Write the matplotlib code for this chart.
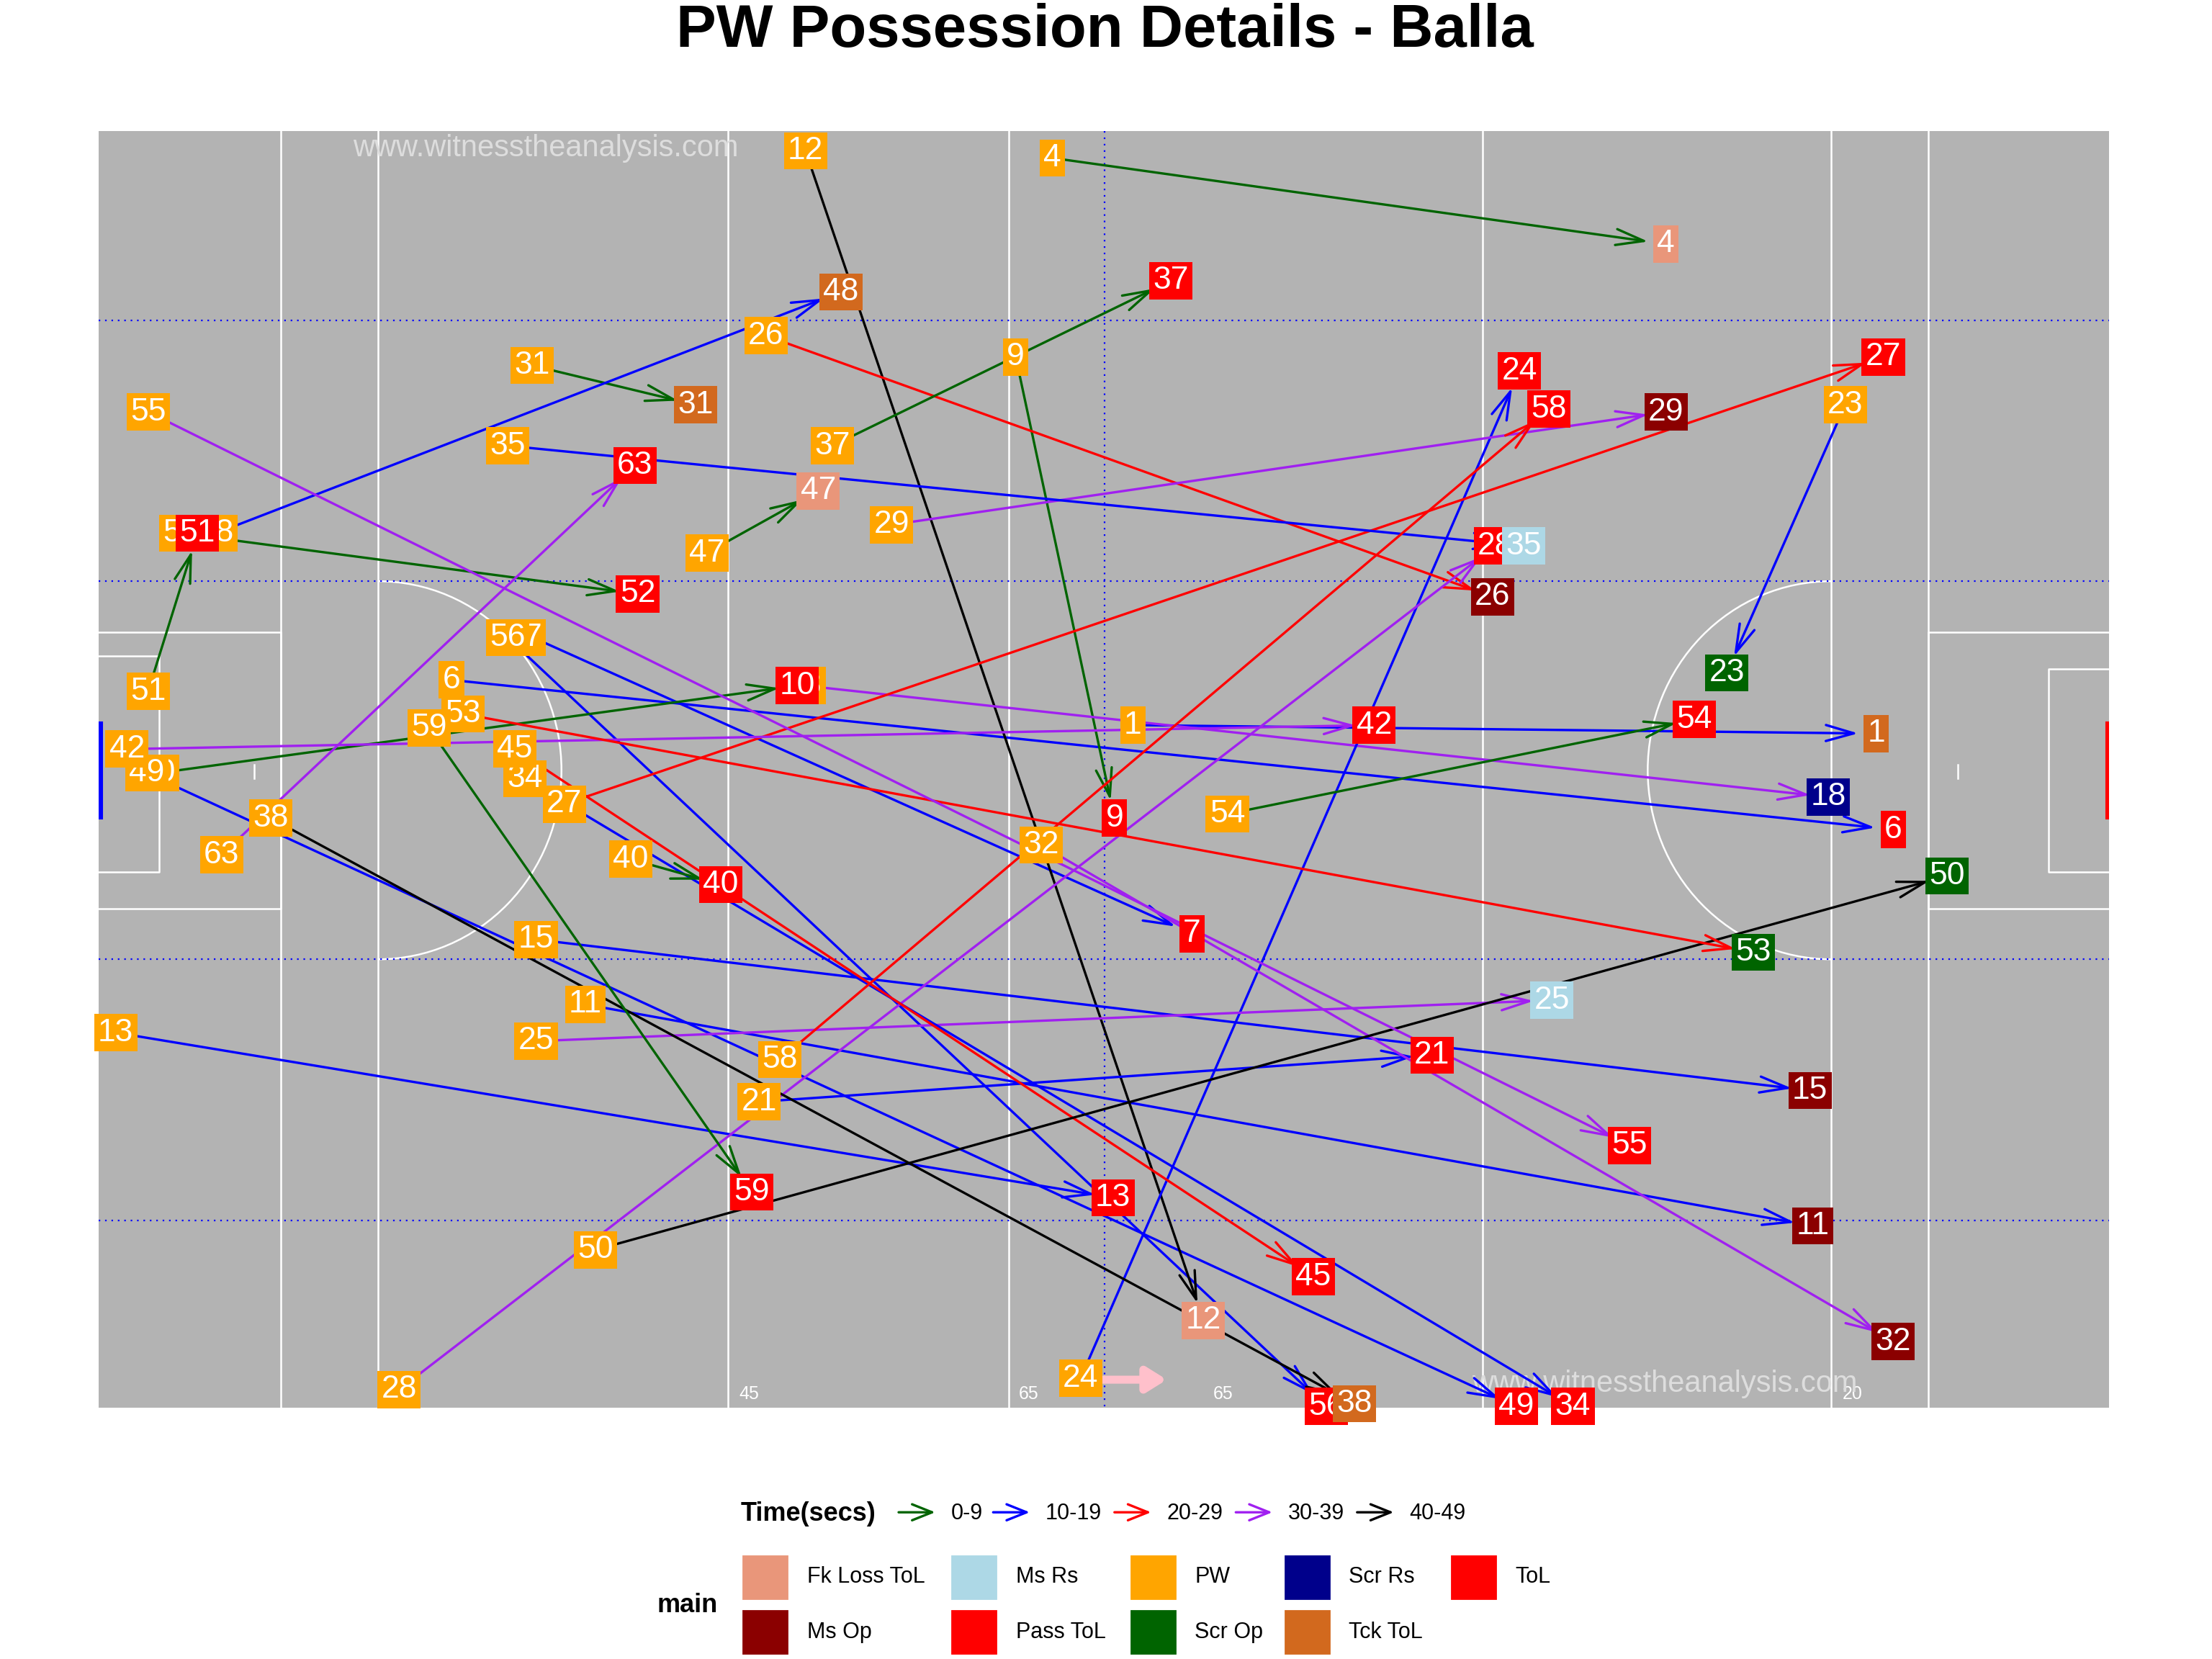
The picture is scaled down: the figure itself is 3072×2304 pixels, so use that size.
import matplotlib
matplotlib.use("Agg")
import matplotlib.pyplot as plt
from matplotlib.patches import Rectangle, Arc

# events: id, start x,y, end x,y (pitch units, y downwards), end type, time bin
ids   = [1, 4, 6, 7, 56, 9, 10, 49, 11, 12, 13, 15, 18, 21, 23, 24, 25, 26, 27, 28, 29, 31, 32, 34, 35, 37, 38, 40, 42, 45, 47, 48, 51, 52, 50, 53, 54, 55, 58, 59, 63]
sx    = [803, 746, 320, 378, 360, 720, 112, 104, 415, 571, 82, 380, 570, 538, 1308, 766, 380, 543, 400, 283, 632, 377, 738, 372, 360, 590, 192, 447, 90, 365, 501, 153, 105, 128, 422, 328, 870, 105, 553, 304, 157]
sy    = [514, 112, 482, 452, 452, 253, 548, 548, 712, 107, 732, 666, 486, 781, 287, 977, 738, 238, 570, 985, 372, 259, 599, 552, 316, 316, 580, 609, 531, 531, 392, 378, 490, 378, 886, 506, 577, 292, 751, 516, 606]
ex    = [1330, 1181, 1342, 845, 940, 790, 565, 1075, 1285, 853, 789, 1283, 1296, 1015, 1224, 1077, 1100, 1058, 1335, 1060, 1181, 493, 1342, 1115, 1080, 830, 960, 511, 974, 931, 580, 596, 140, 452, 1380, 1243, 1201, 1155, 1098, 533, 450]
ey    = [520, 173, 588, 662, 997, 580, 486, 997, 869, 936, 849, 773, 565, 748, 477, 263, 709, 423, 253, 387, 292, 287, 951, 997, 387, 199, 995, 627, 514, 905, 348, 207, 378, 421, 621, 675, 510, 812, 290, 845, 330]
etype = ["Tck ToL", "Fk Loss ToL", "ToL", "ToL", "ToL", "ToL", "ToL", "ToL", "Ms Op", "Fk Loss ToL", "ToL", "Ms Op", "Scr Rs", "ToL", "Scr Op", "ToL", "Ms Rs", "Ms Op", "Pass ToL", "ToL", "Ms Op", "Tck ToL", "Ms Op", "ToL", "Ms Rs", "ToL", "Tck ToL", "ToL", "ToL", "ToL", "Fk Loss ToL", "Tck ToL", "ToL", "ToL", "Scr Op", "Scr Op", "ToL", "ToL", "ToL", "ToL", "ToL"]
tbin  = ["10-19", "0-9", "10-19", "10-19", "10-19", "0-9", "0-9", "10-19", "10-19", "40-49", "10-19", "10-19", "30-39", "10-19", "10-19", "10-19", "30-39", "20-29", "20-29", "30-39", "30-39", "0-9", "30-39", "10-19", "10-19", "0-9", "40-49", "0-9", "30-39", "20-29", "0-9", "10-19", "0-9", "0-9", "40-49", "20-29", "0-9", "30-39", "20-29", "0-9", "30-39"]

time_labels = ["0-9", "10-19", "20-29", "30-39", "40-49"]
time_colors = {"0-9": "#006400", "10-19": "#0000FF", "20-29": "#FF0000", "30-39": "#A020F0", "40-49": "#000000"}
main_labels = ["Fk Loss ToL", "Ms Rs", "PW", "Scr Rs", "ToL", "Ms Op", "Pass ToL", "Scr Op", "Tck ToL"]
main_colors = {"Fk Loss ToL": "#E9967A", "Ms Rs": "#ADD8E6", "PW": "#FFA500", "Scr Rs": "#00008B",
               "ToL": "#FF0000", "Ms Op": "#8B0000", "Pass ToL": "#FF0000", "Scr Op": "#006400", "Tck ToL": "#D2691E"}

plt.rcParams['font.family'] = ['Liberation Sans', 'DejaVu Sans']
W, H = 1568, 1176
fig = plt.figure(figsize=(15.36, 11.52), dpi=200)
L, R, T, B = 70, 1495, 93, 998
ax = fig.add_axes([L / W, 1 - B / H, (R - L) / W, (B - T) / H])
ax.set_xlim(L, R); ax.set_ylim(B, T); ax.axis("off")
ax.add_patch(Rectangle((L, T), R - L, B - T, color="#B3B3B3", zorder=0))
wl = dict(color="white", lw=0.9, zorder=1)
for x in [199, 268, 516, 715, 1051, 1298, 1367]:
    ax.plot([x, x], [T, B], **wl)
ax.plot([L, 199, 199, L], [448, 448, 644, 644], **wl)
ax.plot([L, 113, 113, L], [465, 465, 618, 618], **wl)
ax.plot([R, 1367, 1367, R], [448, 448, 644, 644], **wl)
ax.plot([R, 1452, 1452, R], [474, 474, 618, 618], **wl)
ax.add_patch(Arc((268, 546), 260, 268, theta1=-90, theta2=90, color="white", lw=0.9, zorder=1))
ax.add_patch(Arc((1298, 546), 260, 268, theta1=90, theta2=270, color="white", lw=0.9, zorder=1))
ax.plot([180, 180], [542, 552], **wl); ax.plot([1388, 1388], [542, 552], **wl)
for y in [227, 412, 680, 865]:
    ax.plot([L, R], [y, y], color="blue", ls=(0, (1, 3)), lw=0.8, zorder=1)
ax.plot([783, 783], [T, B], color="blue", ls=(0, (1, 3)), lw=0.8, zorder=1)
ax.plot([L, L], [514, 578], color="blue", lw=4, zorder=2)
ax.plot([R, R], [514, 578], color="red", lw=4, zorder=2)
for x, t in [(531, "45"), (729, "65"), (867, "65"), (1313, "20")]:
    ax.text(x, 988, t, color="white", fontsize=9, ha="center", va="center", zorder=2)
ax.text(387, 105, "www.witnesstheanalysis.com", color="#DDDDDD", fontsize=15, ha="center", va="center", zorder=2)
ax.text(1180, 981, "www.witnesstheanalysis.com", color="#DDDDDD", fontsize=15, ha="center", va="center", zorder=2)
ax.annotate("", xy=(830, 978), xytext=(770, 978),
            arrowprops=dict(arrowstyle="-|>,head_width=0.5,head_length=0.8", color="pink", lw=4), zorder=2)

for i in range(len(ids)):
    c = time_colors[tbin[i]]
    ax.annotate("", xy=(ex[i], ey[i]), xytext=(sx[i], sy[i]),
                arrowprops=dict(arrowstyle="->,head_width=0.4,head_length=1.4", color=c, lw=1.2,
                                shrinkA=0, shrinkB=9), zorder=3)
box = dict(boxstyle="square,pad=0.12", ec="none")
for i in range(len(ids)):
    ax.text(sx[i], sy[i], str(ids[i]), color="white", fontsize=16, ha="center", va="center",
            bbox=dict(box, fc=main_colors["PW"]), zorder=4)
for i in range(len(ids)):
    ax.text(ex[i], ey[i], str(ids[i]), color="white", fontsize=16, ha="center", va="center",
            bbox=dict(box, fc=main_colors[etype[i]]), zorder=5)

ov = fig.add_axes([0, 0, 1, 1]); ov.set_xlim(0, W); ov.set_ylim(H, 0); ov.axis("off")
ov.patch.set_alpha(0)
ov.text(783, 22, "PW Possession Details - Balla", fontsize=30, fontweight="bold", ha="center", va="center")
ov.text(525, 1073, "Time(secs)", fontsize=13, fontweight="bold", ha="left", va="center")
x0 = 637
for lab in time_labels:
    ov.annotate("", xy=(x0 + 26, 1072), xytext=(x0, 1072),
                arrowprops=dict(arrowstyle="->,head_width=0.4,head_length=1.0", color=time_colors[lab], lw=1.2, shrinkA=0, shrinkB=0))
    ov.text(x0 + 37, 1073, lab, fontsize=11, ha="left", va="center")
    x0 += {"0-9": 67, "10-19": 86, "20-29": 86, "30-39": 86}.get(lab, 0)
ov.text(466, 1138, "main", fontsize=13, fontweight="bold", ha="left", va="center")
cols = [527, 675, 802, 911, 1029]
for k, lab in enumerate(main_labels):
    r, cidx = divmod(k, 5)
    y = 1118 if r == 0 else 1157
    x = cols[cidx]
    ov.add_patch(Rectangle((x, y - 15), 31, 30, color=main_colors[lab]))
    ov.text(x + 45, y, lab, fontsize=11, ha="left", va="center")

fig.savefig("out.png", dpi=200)
